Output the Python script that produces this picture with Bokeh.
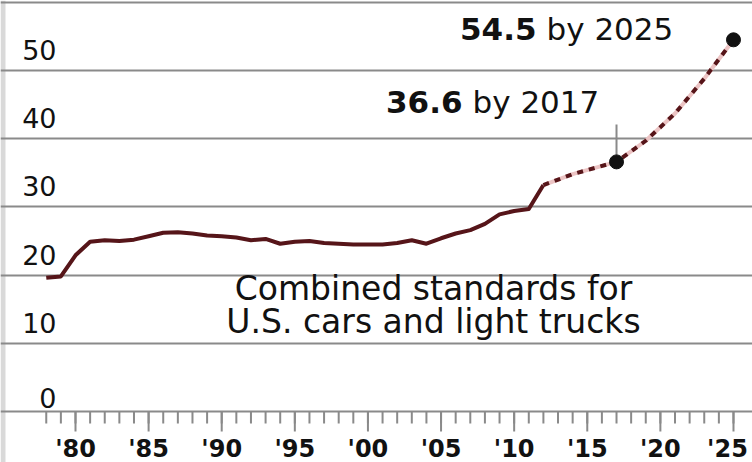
from bokeh.plotting import figure
from bokeh.models import FixedTicker, Range1d, BoxAnnotation, Grid, ColumnDataSource
from bokeh.core.properties import value
from bokeh.embed import file_html
from bokeh.resources import INLINE

# ---------------- data ----------------
hist_years = list(range(1978, 2013))
hist_mpg = [19.6, 19.8, 22.9, 24.9, 25.1, 25.0, 25.2, 25.7, 26.2, 26.3,
            26.1, 25.8, 25.7, 25.5, 25.1, 25.3, 24.6, 24.9, 25.0, 24.7,
            24.6, 24.5, 24.5, 24.5, 24.7, 25.1, 24.6, 25.4, 26.1, 26.6,
            27.5, 28.9, 29.4, 29.7, 33.2]
target_years = [2012, 2014, 2017, 2019, 2021, 2023, 2025]
target_mpg = [33.2, 34.8, 36.6, 39.7, 43.7, 48.8, 54.5]
milestone_years = [2017, 2025]
milestone_mpg = [36.6, 54.5]
milestone_values = ["36.6", "54.5"]
milestone_suffix = ["by 2017", "by 2025"]
y_ticks = [0, 10, 20, 30, 40, 50]
y_tick_labels = ["0", "10", "20", "30", "40", "50"]
grid_values = [0, 10, 20, 30, 40, 50, 60]
x_major = [1980, 1985, 1990, 1995, 2000, 2005, 2010, 2015, 2020, 2025]
x_major_labels = ["'80", "'85", "'90", "'95", "'00", "'05", "'10", "'15", "'20", "'25"]
x_minor = list(range(1978, 2026))
caption_lines = ["Combined standards for", "U.S. cars and light trucks"]

# ---------------- layout helpers (reference pixel -> data) ----------------
W, H = 752, 462
def yr(px):
    return 1980 + (px - 75) / 14.622
def mpg(py):
    return (411 - py) / 6.82
def lift(size):
    # baseline correction for text rendering (px, negative = up)
    return -round(0.39 * size)

FONT = value("DejaVu Sans")
GRID = "#8a8a8a"
LINE = "#561519"
INK = "#111111"

p = figure(width=W, height=H, output_backend="svg", toolbar_location=None,
           x_range=Range1d(yr(0), yr(752)), y_range=Range1d(mpg(462), mpg(0)),
           x_axis_location=None, y_axis_location=None,
           min_border_left=0, min_border_right=0, min_border_top=0,
           min_border_bottom=0)
p.outline_line_color = None
p.background_fill_color = "white"
p.border_fill_color = "white"
p.grid.visible = False

p.add_layout(BoxAnnotation(left=yr(0), right=yr(5), fill_color="#d9d9d9",
                           fill_alpha=1, line_alpha=0, level="underlay"))

grid = Grid(dimension=1, ticker=FixedTicker(ticks=grid_values),
            grid_line_color=GRID, grid_line_width=2)
p.add_layout(grid)

# x ticks (minor every year, major every 5 years) below the zero line
p.segment(x0=x_minor, y0=[0] * len(x_minor), x1=x_minor,
          y1=[mpg(423)] * len(x_minor), line_color=GRID, line_width=2)
p.segment(x0=x_major, y0=[0] * len(x_major), x1=x_major,
          y1=[mpg(431)] * len(x_major), line_color=GRID, line_width=2)
xlab = ColumnDataSource(dict(
    x=x_major, y=[mpg(457)] * len(x_major), text=x_major_labels,
    dx=[-6 if t == x_major[-1] else 0 for t in x_major]))
p.text(x="x", y="y", text="text", x_offset="dx", source=xlab,
       text_font=FONT, text_font_style="bold", text_font_size="24px",
       y_offset=lift(24),
       text_align="center", text_baseline="alphabetic", text_color=INK)

# y tick labels inside plot, above grid lines
p.text(x=[yr(56)] * len(y_ticks),
       y=[v + (0.4 if v == 0 else 1.4) for v in y_ticks],
       text=y_tick_labels, text_font=FONT, text_font_size="27px",
       y_offset=lift(27),
       text_align="right", text_baseline="alphabetic", text_color=INK)

# history line (solid) and targets (dotted)
p.line(hist_years, hist_mpg, line_color=LINE, line_width=4, line_join="round")
p.line(target_years, target_mpg, line_color="#ecc4c4", line_width=4)
p.line(target_years, target_mpg, line_color=LINE, line_width=4, line_dash="6 6")

# leader line and milestone dots
p.segment(x0=[milestone_years[0]], y0=[mpg(124)], x1=[milestone_years[0]], y1=[mpg(155)],
          line_color=GRID, line_width=2)
p.scatter(milestone_years, milestone_mpg, size=14, color=INK)

# milestone annotations
split_x = [yr(462), yr(536)]
base_y = [mpg(113), mpg(40)]
p.text(x=split_x, y=base_y, text=milestone_values, text_font=FONT,
       text_font_style="bold", text_font_size="31px", text_align="right",
       y_offset=lift(31),
       text_baseline="alphabetic", text_color=INK)
p.text(x=split_x, y=base_y, text=milestone_suffix, text_font=FONT,
       text_font_size="31px", text_align="left", x_offset=10,
       y_offset=lift(31),
       text_baseline="alphabetic", text_color=INK)

# caption
p.text(x=[yr(433)] * 2, y=[mpg(301), mpg(334)], text=caption_lines,
       text_font=FONT, text_font_size="33px", text_align="center",
       y_offset=lift(33),
       text_baseline="alphabetic", text_color=INK)

open("out.html", "w").write(file_html(p, INLINE))
